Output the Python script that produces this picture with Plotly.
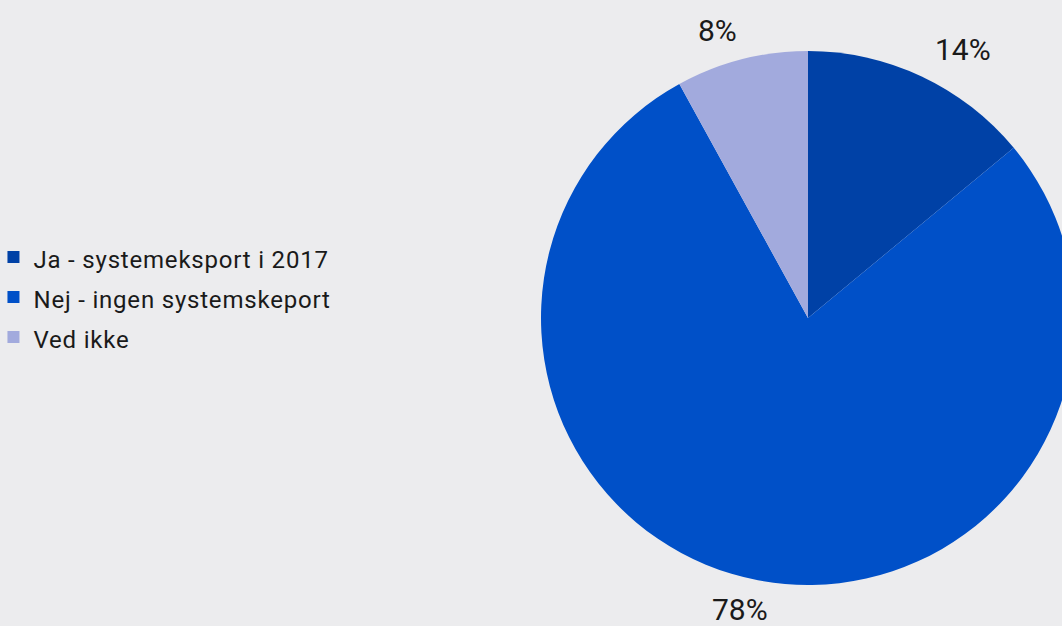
import math
import plotly.graph_objects as go

labels = ["Ja - systemeksport i 2017", "Nej - ingen systemskeport", "Ved ikke"]
values = [14, 78, 8]
colors = ["#0041A6", "#0050C8", "#A2AADD"]

W, H = 1090, 626
cx, cy, r = 808, 318, 267

legend_labels = ['<span style="font-size:24px;letter-spacing:0.8px">%s</span>' % s for s in labels]

fig = go.Figure(go.Pie(
    labels=legend_labels,
    values=values,
    marker=dict(colors=colors, line=dict(width=0)),
    sort=False,
    direction="clockwise",
    rotation=0,
    textinfo="none",
    domain=dict(x=[(cx - r) / W, (cx + r) / W], y=[(H - cy - r) / H, (H - cy + r) / H]),
    hoverinfo="percent",
))

# percent labels placed around the pie, angle derived from the data
total = sum(values)
cum = 0
for v in values:
    mid = (cum + v / 2) / total * 2 * math.pi
    cum += v
    px = cx + math.sin(mid) * (r + 96)
    py = cy - math.cos(mid) * (r + 30)
    fig.add_annotation(
        x=px / W, y=1 - py / H, xref="paper", yref="paper",
        text="%d%%" % round(v / total * 100), showarrow=False,
        xanchor="center", yanchor="middle",
        font=dict(size=30, color="#1a1a1a", family="Roboto"),
    )

fig.update_layout(
    width=W, height=H,
    margin=dict(l=0, r=0, t=0, b=0, autoexpand=False),
    paper_bgcolor="#ECECEE",
    plot_bgcolor="#ECECEE",
    font=dict(family="Roboto", color="#1a1a1a"),
    legend=dict(x=-0.006, xanchor="left", y=0.525, yanchor="middle",
                font=dict(size=28.5, color="#1a1a1a", family="Roboto"),
                bgcolor="rgba(0,0,0,0)"),
)

fig.write_html(
    "out.html",
    config={"displayModeBar": False},
    post_script="document.documentElement.style.overflow='hidden';document.body.style.overflow='hidden';document.body.style.margin='0';document.body.style.background='#ECECEE';",
)
